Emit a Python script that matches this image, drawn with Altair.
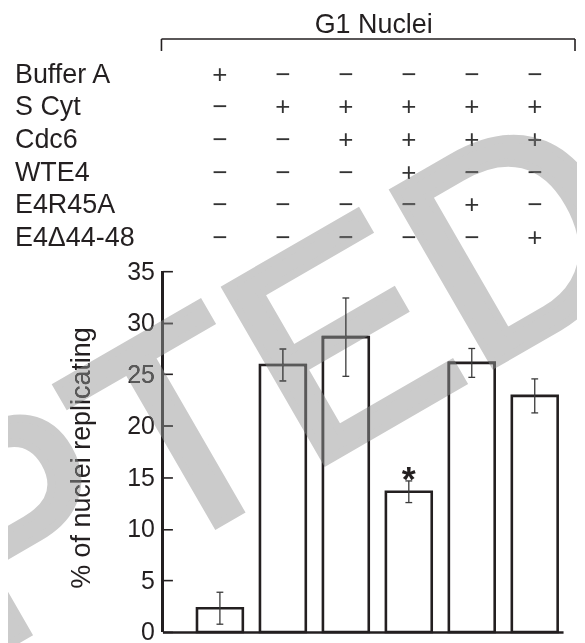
import altair as alt
import pandas as pd

# ---- data ----
lanes = [1, 2, 3, 4, 5, 6]
values = [2.3, 25.9, 28.6, 13.6, 26.1, 22.9]
errors = [1.55, 1.55, 3.8, 1.05, 1.4, 1.65]
sig = ["", "", "", "*", "", ""]

rows = ["Buffer A", "S Cyt", "Cdc6", "WTE4", "E4R45A", "E4\u039444-48"]
buffer_a = ["+", "\u2212", "\u2212", "\u2212", "\u2212", "\u2212"]
s_cyt = ["\u2212", "+", "+", "+", "+", "+"]
cdc6 = ["\u2212", "\u2212", "+", "+", "+", "+"]
wte4 = ["\u2212", "\u2212", "\u2212", "+", "\u2212", "\u2212"]
e4r45a = ["\u2212", "\u2212", "\u2212", "\u2212", "+", "\u2212"]
e4d = ["\u2212", "\u2212", "\u2212", "\u2212", "\u2212", "+"]
y_ticks = [0, 5, 10, 15, 20, 25, 30, 35]
header = ["G1 Nuclei"]
y_title = "% of nuclei replicating"
watermark = ["ACCEPTED"]

INK = "#231f20"
FONT = "Liberation Sans"

bars_df = pd.DataFrame({"lane": lanes, "value": values, "err": errors, "sig": sig})
table_cols = [buffer_a, s_cyt, cdc6, wte4, e4r45a, e4d]
table_df = pd.DataFrame(
    [{"row": r, "lane": lanes[j], "sym": col[j]} for r, col in zip(rows, table_cols) for j in range(len(lanes))]
)
labels_df = pd.DataFrame({"row": rows})

xscale = alt.Scale(domain=[0.1667, 6.3704], nice=False, zero=False)
yscale = alt.Scale(domain=[0, 35], nice=False, zero=True)

base = alt.Chart(bars_df).transform_calculate(
    lo="datum.value - datum.err",
    hi="datum.value + datum.err",
    cl="datum.lane - 0.054",
    cr="datum.lane + 0.054",
)

bars = base.mark_bar(size=46, fill="white", stroke=INK, strokeWidth=2.6).encode(
    x=alt.X("lane:Q", scale=xscale,
            axis=alt.Axis(labels=False, ticks=False, title=None, grid=False,
                          domainColor=INK, domainWidth=2.6, zindex=0)),
    y=alt.Y("value:Q", scale=yscale,
            axis=alt.Axis(values=y_ticks, offset=-10, domain=False, tickSize=10,
                          tickWidth=1.6, tickColor=INK, labelFontSize=25,
                          labelPadding=8, labelColor=INK, labelFont=FONT, grid=False,
                          title=y_title, titleFont=FONT, titleFontSize=27,
                          titleFontWeight="normal", titleColor=INK, titleAngle=270,
                          titleX=-83, titleY=187, titleAlign="center",
                          titleBaseline="alphabetic", zindex=0)),
)

err_v = base.mark_rule(color="#3a3a3a", strokeWidth=1.3).encode(
    x=alt.X("lane:Q", scale=xscale), y=alt.Y("lo:Q", scale=yscale), y2="hi:Q"
)
cap_lo = base.mark_rule(color="#3a3a3a", strokeWidth=1.3).encode(
    x=alt.X("cl:Q", scale=xscale), x2="cr:Q", y=alt.Y("lo:Q", scale=yscale)
)
cap_hi = base.mark_rule(color="#3a3a3a", strokeWidth=1.3).encode(
    x=alt.X("cl:Q", scale=xscale), x2="cr:Q", y=alt.Y("hi:Q", scale=yscale)
)
star = base.mark_text(fontSize=36, fontWeight="bold", font=FONT, color=INK,
                      baseline="alphabetic", dy=10.5).encode(
    x=alt.X("lane:Q", scale=xscale), y=alt.Y("hi:Q", scale=yscale), text="sig:N"
)
y_domain = alt.Chart(bars_df).mark_rule(color=INK, strokeWidth=2.6).encode(
    x=alt.value(0), y=alt.datum(0, scale=yscale), y2=alt.datum(35)
)

plot_group = alt.layer(bars, err_v, cap_lo, cap_hi, star, y_domain)

row_scale = alt.Scale(domain=rows, range=[-189, -25.5], padding=0)
symbols = alt.Chart(table_df).mark_text(fontSize=26, font=FONT, color="#333333",
                                        baseline="alphabetic", align="center").encode(
    x=alt.X("lane:Q", scale=xscale),
    y=alt.Y("row:N", scale=row_scale, axis=None),
    text="sym:N",
)
row_labels = alt.Chart(labels_df).mark_text(fontSize=27, font=FONT, color=INK,
                                            baseline="alphabetic", align="left").encode(
    x=alt.value(-148),
    y=alt.Y("row:N", scale=row_scale, axis=None),
    text="row:N",
)
table_group = alt.layer(symbols, row_labels)

head = alt.Chart(pd.DataFrame({"t": header})).mark_text(
    fontSize=27, font=FONT, color=INK, align="center", baseline="alphabetic"
).encode(x=alt.value(212), y=alt.value(-239), text="t:N")

bracket_h = alt.Chart(pd.DataFrame({"t": header})).mark_rule(color=INK, strokeWidth=1.6).encode(
    x=alt.value(-1), x2=alt.value(414), y=alt.value(-233)
)
bracket_l = alt.Chart(pd.DataFrame({"t": header})).mark_rule(color=INK, strokeWidth=1.6).encode(
    x=alt.value(-1), y=alt.value(-233), y2=alt.value(-221)
)
bracket_r = alt.Chart(pd.DataFrame({"t": header})).mark_rule(color=INK, strokeWidth=1.6).encode(
    x=alt.value(414), y=alt.value(-233), y2=alt.value(-221)
)

wm_df = pd.DataFrame({"t": watermark})
# grey stamp over white areas
wm = alt.Chart(wm_df).mark_text(
    fontSize=292, font=FONT, angle=330, align="center", baseline="alphabetic",
    fill="#cbcbcb", stroke="#cbcbcb", strokeWidth=8, blend="multiply"
).encode(x=alt.value(-193.7), y=alt.value(397.6), text="t:N")
# dark ink under the stamp shows as mid grey
wm_lift = alt.Chart(wm_df).mark_text(
    fontSize=292, font=FONT, angle=330, align="center", baseline="alphabetic",
    fill="#595959", stroke="#595959", strokeWidth=8, blend="lighten"
).encode(x=alt.value(-193.7), y=alt.value(397.6), text="t:N")

chart = alt.layer(
    plot_group, table_group, head, bracket_h, bracket_l, bracket_r, wm, wm_lift
).resolve_scale(y="independent").properties(
    width=402, height=362,
    background="white",
    autosize=alt.AutoSizeParams(type="none"),
    padding={"left": 155, "top": 263, "right": 14, "bottom": 10},
).configure_view(stroke=None)

chart.save("out.html", embed_options={"renderer": "svg", "actions": False})
